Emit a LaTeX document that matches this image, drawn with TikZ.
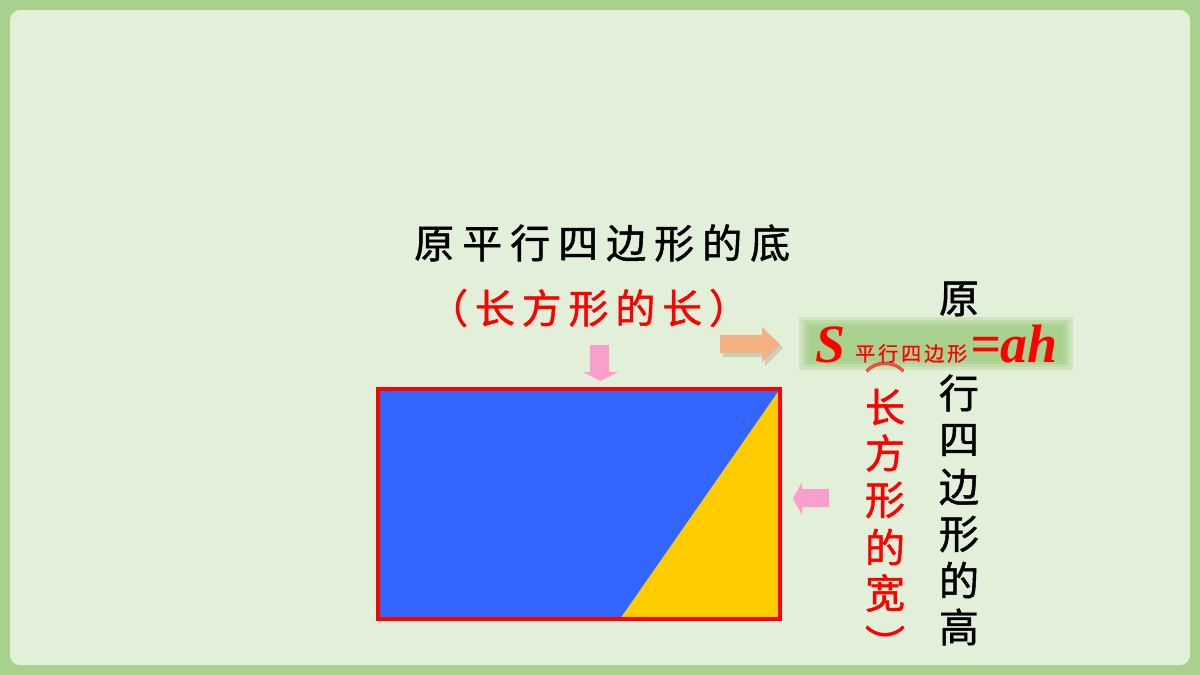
\documentclass[tikz,border=0pt]{standalone}
\usepackage{fontspec}
\setmainfont{Liberation Serif}
\newfontfamily\cjk[FakeBold=1.2]{Noto Sans CJK SC}
\newfontfamily\cjkls[LetterSpace=20,FakeBold=1.2]{Noto Sans CJK SC}
\newfontfamily\cjkred[LetterSpace=17,FakeBold=1.2]{Noto Sans CJK SC}
\newfontfamily\cjksub[LetterSpace=15,FakeBold=0.8]{Noto Sans CJK SC}
\definecolor{outerg}{HTML}{A9D18E}
\definecolor{panel}{HTML}{E2EFD9}
\definecolor{boxg}{HTML}{A9D18E}
\definecolor{pinkar}{HTML}{F99FCB}
\definecolor{orangear}{HTML}{F4B183}
\definecolor{bluef}{HTML}{3366FF}
\definecolor{yellowf}{HTML}{FFCC00}
\definecolor{redc}{HTML}{FF0000}
\tikzset{
  blk/.style={inner sep=0pt, text=black, font=\cjk\fontsize{40}{48}\selectfont},
  redv/.style={inner sep=0pt, text=redc, font=\cjk\fontsize{40}{48}\selectfont},
  fml/.style={inner sep=0pt, text=redc, font=\fontsize{54}{60}\selectfont\bfseries\itshape},
  arrowpink/.style={fill=pinkar, draw=none},
}
\begin{document}
\begin{tikzpicture}[x=1pt,y=-1pt]
% background
\fill[outerg] (0,0) rectangle (1200,675);
\fill[panel, rounded corners=10pt] (10,10) rectangle (1190,665);
\useasboundingbox (0,0) rectangle (1200,675);

% title texts
\node[inner sep=0pt, anchor=west, font=\cjkls\fontsize{40}{48}\selectfont] (title) at (414,243) {原平行四边形的底};
\node[inner sep=0pt, anchor=west, text=redc, font=\cjkred\fontsize{40}{48}\selectfont] (sub1) at (428,308) {（长方形的长）};

% down arrow
\fill[arrowpink] (590,345) -- (609,345) -- (609,372) -- (618,372) -- (600.5,381) -- (583,372) -- (590,372) -- cycle;

% rectangle
\fill[bluef] (378,389) rectangle (780,619);
\fill[yellowf] (780,389) -- (780,619) -- (620,619) -- cycle;
\draw[redc, line width=4pt] (378,389) rectangle (780,619);

% right (orange) arrow with soft shadow
\fill[black, opacity=0.12] (723,339) -- (765,339) -- (765,331) -- (783,348) -- (765,366) -- (765,357) -- (723,357) -- cycle;
\fill[orangear] (720,335) -- (762,335) -- (762,327) -- (780,344.5) -- (762,362) -- (762,353) -- (720,353) -- cycle;

% left pink arrow
\fill[arrowpink] (829,489) -- (802,489) -- (802,482) -- (793,498.5) -- (802,515) -- (802,507) -- (829,507) -- cycle;

% vertical black text
\foreach \c/\yy [count=\i] in {原/299,平/346,行/393,四/440,边/487,形/534,的/580,高/627}
  \node[blk] (h\i) at (959,\yy) {\c};

% vertical red text
\foreach \c/\yy [count=\i] in {长/407,方/453,形/500,的/547,宽/593}
  \node[redv] (w\i) at (885,\yy) {\c};
\node[redv, rotate=-90] (wclose) at (885,644) {）};

% formula box with glow
\fill[boxg!35!panel] (799,317) rectangle (1073,370);
\fill[boxg!65!panel] (803,320) rectangle (1069,367);
\fill[boxg!85!panel] (806,323) rectangle (1066,364);
\fill[boxg] (810,326) rectangle (1062,361);

\node[redv, rotate=-90, opacity=0.6] (wopen) at (885,354) {（};

\node[fml, anchor=base west] (S) at (815,362) {S};
\node[inner sep=0pt, anchor=base west, text=redc, font=\cjksub\fontsize{20}{24}\selectfont] (Ssub) at (855,361) {平行四边形};
\node[fml, anchor=base west] (eqah) at (970,362) {=ah};
\end{tikzpicture}
\end{document}
